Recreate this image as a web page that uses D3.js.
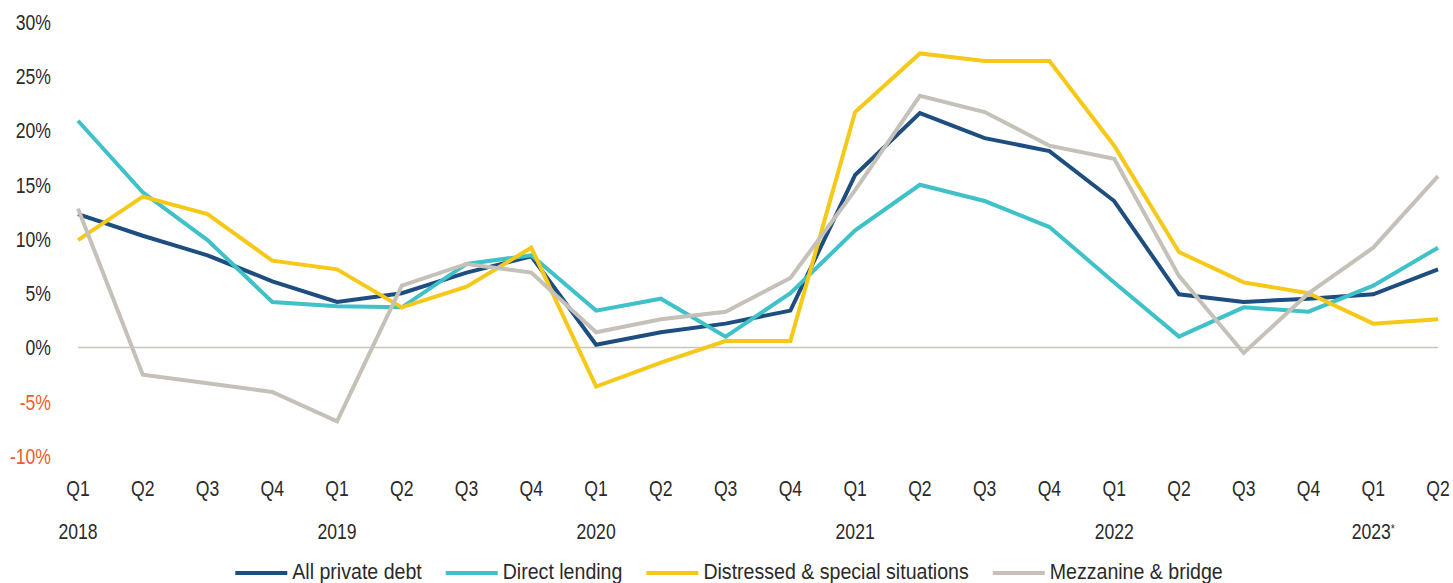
<!DOCTYPE html>
<html>
<head>
<meta charset="utf-8">
<style>
    body { margin: 0; background: #fff; }
    text { font-family: "Liberation Sans", Arial, sans-serif; fill: #2b2a29; }
</style>
</head>
<body>
<svg></svg>
<script src="https://d3js.org/d3.v7.min.js"></script>
<script>
    // quarters on the x axis, year labels sit under each Q1
    let quarters = ["Q1","Q2","Q3","Q4","Q1","Q2","Q3","Q4","Q1","Q2","Q3","Q4",
                    "Q1","Q2","Q3","Q4","Q1","Q2","Q3","Q4","Q1","Q2"];
    let years = ["2018","2019","2020","2021","2022","2023*"];
    let yTicks = [-10, -5, 0, 5, 10, 15, 20, 25, 30];

    let allPrivateDebt = [12.3, 10.3, 8.5, 6.1, 4.2, 5.0, 6.9, 8.4, 0.25, 1.4, 2.2, 3.4,
                          15.9, 21.6, 19.3, 18.1, 13.5, 4.9, 4.2, 4.5, 4.9, 7.2];
    let directLending = [20.9, 14.3, 9.9, 4.2, 3.8, 3.7, 7.7, 8.5, 3.4, 4.5, 1.0, 5.0,
                         10.8, 15.0, 13.5, 11.1, 6.0, 1.0, 3.7, 3.3, 5.7, 9.2];
    let distressed = [9.9, 13.9, 12.3, 8.0, 7.2, 3.7, 5.6, 9.2, -3.6, -1.4, 0.6, 0.6,
                      21.7, 27.1, 26.4, 26.4, 18.6, 8.8, 6.0, 5.0, 2.2, 2.6];
    let mezzanine = [12.8, -2.5, -3.3, -4.1, -6.8, 5.7, 7.7, 6.9, 1.4, 2.6, 3.3, 6.4,
                     14.5, 23.2, 21.7, 18.6, 17.4, 6.6, -0.5, 5.0, 9.2, 15.8];

    let series = [
        {name: "All private debt", values: allPrivateDebt, color: "#1d4e7f"},
        {name: "Direct lending", values: directLending, color: "#3ec1c8"},
        {name: "Distressed & special situations", values: distressed, color: "#f6c818"},
        {name: "Mezzanine & bridge", values: mezzanine, color: "#c5c0b8"}
    ];

    let width = 1453,
        height = 583,
        squeeze = 0.8,        // no narrow font installed, so squeeze text horizontally
        legendSqueeze = 0.89;

    let svg = d3.select("svg")
        .attr("width", width)
        .attr("height", height);

    let x = d3.scalePoint()
        .domain(d3.range(quarters.length))
        .range([78, 1438]);

    let y = d3.scaleLinear()
        .domain([-10, 30])
        .range([456, 22]);

    function place(px, py, s) {
        return "translate(" + px + "," + py + ") scale(" + (s || squeeze) + ",1)";
    }

    // zero line
    svg.append("line")
        .attr("x1", x(0)).attr("x2", x(quarters.length - 1))
        .attr("y1", y(0)).attr("y2", y(0))
        .attr("stroke", "#c8c5c0")
        .attr("stroke-width", 1.5);

    // y labels
    svg.append("g").selectAll("text")
        .data(yTicks)
        .enter().append("text")
        .attr("transform", d => place(51, y(d)))
        .attr("dy", "0.36em")
        .attr("text-anchor", "end")
        .style("font-size", "22px")
        .style("fill", d => d < 0 ? "#f15a2b" : "#2b2a29")
        .text(d => d + "%");

    // quarter labels
    svg.append("g").selectAll("text")
        .data(quarters)
        .enter().append("text")
        .attr("transform", (d, i) => place(x(i), 496))
        .attr("text-anchor", "middle")
        .style("font-size", "22px")
        .text(d => d);

    // year labels under Q1
    let yearG = svg.append("g").selectAll("text")
        .data(years)
        .enter().append("text")
        .attr("transform", (d, i) => place(x(i * 4), 539))
        .attr("text-anchor", "middle")
        .style("font-size", "22px");
    yearG.append("tspan").text(d => d.replace("*", ""));
    yearG.filter(d => d.indexOf("*") >= 0)
        .append("tspan")
        .attr("dy", "-0.45em")
        .style("font-size", "13px")
        .text("*");

    // lines
    let line = d3.line()
        .x((d, i) => x(i))
        .y(d => y(d));

    svg.append("g").selectAll("path")
        .data(series)
        .enter().append("path")
        .attr("d", d => line(d.values))
        .attr("fill", "none")
        .attr("stroke", d => d.color)
        .attr("stroke-width", 4)
        .attr("stroke-linejoin", "miter");

    // legend, laid out from measured text widths and centred
    let legend = svg.append("g");
    let items = legend.selectAll("g")
        .data(series)
        .enter().append("g");
    items.append("line")
        .attr("x1", 0).attr("x2", 52)
        .attr("y1", 573).attr("y2", 573)
        .attr("stroke", d => d.color)
        .attr("stroke-width", 4);
    items.append("text")
        .attr("transform", place(57, 579, legendSqueeze))
        .style("font-size", "22px")
        .text(d => d.name);

    let offset = 0;
    items.each(function () {
        let g = d3.select(this);
        g.attr("transform", "translate(" + offset + ",0)");
        offset += 57 + g.select("text").node().getComputedTextLength() * legendSqueeze + 24;
    });
    let total = offset - 24;
    legend.attr("transform", "translate(" + (729 - total / 2) + ",0)");
</script>
</body>
</html>
